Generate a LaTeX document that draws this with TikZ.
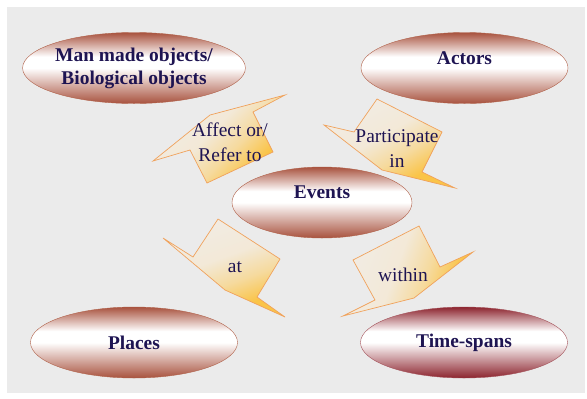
\documentclass[tikz,border=0pt]{standalone}
\usepackage{fontspec}
\setmainfont{Liberation Serif}
\usetikzlibrary{shapes.geometric}
\definecolor{PanelColor}{RGB}{235,235,235}
\definecolor{OvalColor}{RGB}{168,82,62}
\definecolor{SpanColor}{RGB}{140,36,46}
\definecolor{OvalEdge}{RGB}{176,96,72}
\definecolor{TextColor}{RGB}{30,20,82}
\definecolor{ArrowEdge}{RGB}{240,162,92}
\definecolor{ArrowCream}{RGB}{242,236,228}
\definecolor{ArrowGold}{RGB}{250,196,72}
\pgfdeclareverticalshading{ovalbrown}{100bp}{color(0bp)=(OvalColor); color(25bp)=(OvalColor); color(50bp)=(white); color(58bp)=(white); color(75bp)=(OvalColor); color(100bp)=(OvalColor)}
\pgfdeclareverticalshading{ovalred}{100bp}{color(0bp)=(SpanColor); color(25bp)=(SpanColor); color(50bp)=(white); color(58bp)=(white); color(75bp)=(SpanColor); color(100bp)=(SpanColor)}
\pgfdeclareverticalshading{calloutfill}{100bp}{color(0bp)=(ArrowGold); color(30bp)=(ArrowGold); color(42bp)=(ArrowGold!45!ArrowCream); color(55bp)=(ArrowCream!92!ArrowGold); color(75bp)=(ArrowCream); color(100bp)=(ArrowCream)}
\tikzset{
  oval/.style={ellipse, draw=OvalEdge, thin, shade, shading=ovalbrown, minimum width=207bp, minimum height=71bp, inner sep=0pt, align=center, text=TextColor, font=\fontsize{19.5}{23}\selectfont\bfseries},
  span oval/.style={oval, shading=ovalred, draw=SpanColor!80},
  raised/.style={text depth=20bp},
  callout/.style={draw=ArrowEdge, line width=0.7bp, line join=miter, shade, shading=calloutfill, shading angle=#1},
  link text/.style={align=center, text=TextColor, font=\fontsize{19.5}{25}\selectfont}
}

\begin{document}
\begin{tikzpicture}[x=1bp, y=-1bp]
  % page and grey panel (pixel units, y downwards)
  \useasboundingbox (0,0) rectangle (587,398);
  \fill[PanelColor] (7,7) rectangle (585,393);

  % callout arrows round the centre
  \path[callout=45] (153,161) -- (210,115) -- (285,95) -- (253,112) -- (273,152) -- (207,183) -- (190,150) -- cycle;
  \path[callout=30] (324,125) -- (354,132) -- (377,99) -- (442,132) -- (422,172) -- (455,188) -- (382,170) -- cycle;
  \path[callout=20] (163,238) -- (193,257) -- (218,219) -- (280,259) -- (257,297) -- (285,317) -- (225,290) -- cycle;
  \path[callout=70] (353,260) -- (419,226) -- (440,267) -- (473,252) -- (414,298) -- (343,316) -- (375,300) -- cycle;

  % the five entities
  \node[oval] (objects) at (134,68) {Man made objects/\\Biological objects};
  \node[oval, raised] (actors) at (464.5,68) {Actors};
  \node[oval, raised, minimum width=180bp] (events) at (322,202.5) {Events};
  \node[oval] (places) at (134,342.5) {Places};
  \node[span oval] (timespans) at (464,342.5) {Time-spans};

  % relation labels
  \node[link text] (affect) at (230,142) {Affect or/\\Refer to};
  \node[link text] (participate) at (397,149) {Participate\\in};
  \node[link text] (locatedat) at (235,267) {at};
  \node[link text] (within) at (403,275) {within};
\end{tikzpicture}
\end{document}
